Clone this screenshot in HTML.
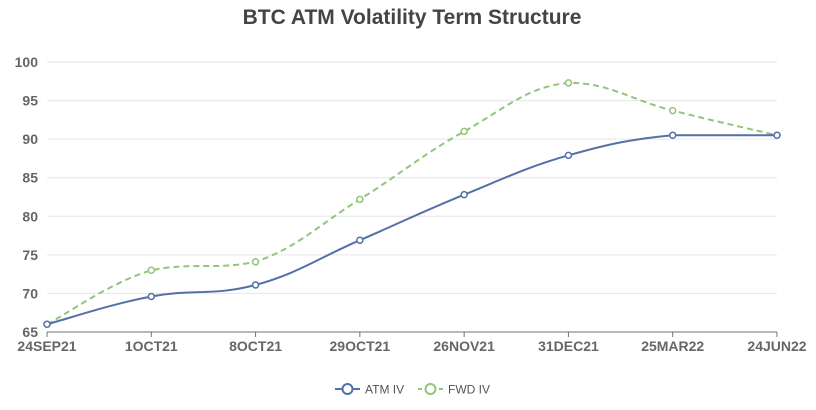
<!DOCTYPE html>
<html><head><meta charset="utf-8"><style>
body{margin:0;background:#fff;font-family:"Liberation Sans",sans-serif}
svg text{font-family:"Liberation Sans",sans-serif}
</style></head><body>
<svg width="816" height="405" id="c">
<text x="412" y="24" text-anchor="middle" font-size="21" font-weight="bold" fill="#444">BTC ATM Volatility Term Structure</text>
<g id="grid"></g><g id="axes"></g><g id="series"></g>
<g>
<g>
<line x1="335" y1="389" x2="360" y2="389" stroke="#5470a8" stroke-width="2"/><circle cx="347.5" cy="389" r="5" fill="#fff" stroke="#5470a8" stroke-width="2"/>
<text x="365" y="393.5" font-size="12" fill="#555">ATM IV</text></g>
<g>
<line x1="418" y1="389" x2="443" y2="389" stroke="#91c57a" stroke-width="2" stroke-dasharray="4,3"/><circle cx="430.5" cy="389" r="5" fill="#fff" stroke="#91c57a" stroke-width="2"/>
<text x="448" y="393.5" font-size="12" fill="#555">FWD IV</text></g>
</g>
</svg>
<script>
const categories=["24SEP21","1OCT21","8OCT21","29OCT21","26NOV21","31DEC21","25MAR22","24JUN22"];
const atmIV=[66,69.6,71.1,76.9,82.8,87.9,90.5,90.5];
const fwdIV=[66,73,74.1,82.2,91,97.3,93.7,90.5];
const yTicks=[65,70,75,80,85,90,95,100];
const NS="http://www.w3.org/2000/svg";
const X0=47,X1=777,Y0=332,Y1=62,ymin=65,ymax=100;
const xs=i=>X0+i*(X1-X0)/(categories.length-1);
const ys=v=>Y0-(v-ymin)/(ymax-ymin)*(Y0-Y1);
function mk(t,a,p){const e=document.createElementNS(NS,t);for(const k in a)e.setAttribute(k,a[k]);p.appendChild(e);return e;}
const grid=document.getElementById('grid'),axes=document.getElementById('axes'),ser=document.getElementById('series');
yTicks.forEach(v=>{
 if(v!==ymin){const l=mk('line',{x1:X0,x2:X1,y1:ys(v),y2:ys(v),stroke:'#e6e6e6'},grid);
 
 }
 const t=mk('text',{x:38,y:ys(v)+5,'text-anchor':'end','font-size':14,'font-weight':'bold',fill:'#666'},axes);t.textContent=v;
 
 
});
const ax=mk('line',{x1:X0,x2:X1,y1:Y0,y2:Y0,stroke:'#6e7079'},axes);


categories.forEach((c,i)=>{
 const tk=mk('line',{x1:xs(i),x2:xs(i),y1:Y0,y2:Y0+5,stroke:'#6e7079'},axes);
 
 
 const t=mk('text',{x:xs(i),y:Y0+19,'text-anchor':'middle','font-size':14,'font-weight':'bold',fill:'#666'},axes);t.textContent=c;
 
 
});
function smooth(pts){let d=`M${pts[0][0]},${pts[0][1]}`;const s=0.2;
 for(let i=0;i<pts.length-1;i++){const p0=pts[i-1]||pts[i],p1=pts[i],p2=pts[i+1],p3=pts[i+2]||p2;
 let c1y=p1[1]+(p2[1]-p0[1])*s,c2y=p2[1]-(p3[1]-p1[1])*s;
 const lo=Math.min(p1[1],p2[1]),hi=Math.max(p1[1],p2[1]);
 c1y=Math.max(lo,Math.min(hi,c1y));c2y=Math.max(lo,Math.min(hi,c2y));
 d+=` C${p1[0]+(p2[0]-p0[0])*s},${c1y} ${p2[0]-(p3[0]-p1[0])*s},${c2y} ${p2[0]},${p2[1]}`;}
 return d;}
function draw(vals,color,dash,name){
 const pts=vals.map((v,i)=>[xs(i),ys(v)]);
 const p=mk('path',{d:smooth(pts),fill:'none',stroke:color,'stroke-width':2,'stroke-dasharray':dash},ser);
 
 
 pts.forEach(q=>{const c=mk('circle',{cx:q[0],cy:q[1],r:3,fill:'#fff',stroke:color,'stroke-width':1.5},ser);
 
 });
}
draw(fwdIV,'#91c57a','6,4','fwd-iv');
draw(atmIV,'#5470a8','none','atm-iv');
</script>
</body></html>
